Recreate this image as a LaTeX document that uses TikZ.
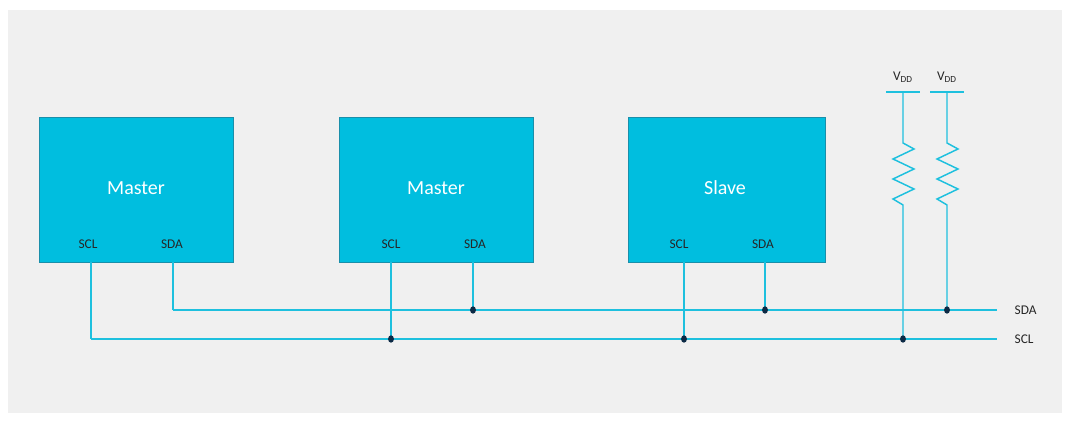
\documentclass[tikz,border=0pt]{standalone}
\usepackage{fontspec}
\setmainfont{Carlito}
\begin{document}
\begin{tikzpicture}[x=0.75pt,y=-0.75pt,
  wire/.style={draw=wirec,line width=1.1pt},
  blk/.style={draw=blkb,fill=blkf,line width=0.8pt,minimum width=194*0.75pt,minimum height=145*0.75pt,anchor=north west,inner sep=0pt},
  pin/.style={font=\fontsize{10}{12}\selectfont,text=black!85},
  jdot/.style={fill=dotc,draw=none,ellipse,minimum width=4pt,minimum height=6pt,inner sep=0pt},
  lbl/.style={font=\fontsize{10}{12}\selectfont,text=black!85}]
\definecolor{wirec}{HTML}{1EC0DE}
\definecolor{blkf}{HTML}{00BEDF}
\definecolor{blkb}{HTML}{1A8FAA}
\definecolor{dotc}{HTML}{0C2A45}
\definecolor{bgc}{HTML}{F0F0F0}
\useasboundingbox (0,0) rectangle (1072,423);
\fill[white] (0,0) rectangle (1072,423);
\fill[bgc] (8,10) rectangle (1062,413);
% blocks
\node[blk] (m1) at (39,117) {};
\node[blk] (m2) at (339,117) {};
\node[blk,minimum width=197*0.75pt] (sl) at (628,117) {};
\node[font=\fontsize{15}{18}\selectfont,text=white] (m1t) at (136,188) {Master};
\node[font=\fontsize{15}{18}\selectfont,text=white] (m2t) at (436,188) {Master};
\node[font=\fontsize{15}{18}\selectfont,text=white] (slt) at (725,188) {Slave};
\node[pin] (m1c) at (88,244) {SCL};
\node[pin] (m1d) at (172,244) {SDA};
\node[pin] (m2c) at (391,244) {SCL};
\node[pin] (m2d) at (475,244) {SDA};
\node[pin] (slc) at (679,244) {SCL};
\node[pin] (sld) at (763,244) {SDA};
% bus ends
\coordinate (sdaL) at (173,310);
\coordinate (sdaR) at (997,310);
\coordinate (sclL) at (91,339);
\coordinate (sclR) at (997,339);
\node[lbl,anchor=west] (sdal) at (1010,310) {SDA};
\node[lbl,anchor=west] (scll) at (1010,339) {SCL};
\draw[wire] (sdaL) -- (sdaR);
\draw[wire] (sclL) -- (sclR);
% vertical taps
\coordinate (a1) at (91,262); \draw[wire] (a1) -- (sclL);
\coordinate (a2) at (173,262); \draw[wire] (a2) -- (sdaL);
\coordinate (b1) at (391,262); \coordinate (b1e) at (391,339); \draw[wire] (b1) -- (b1e);
\coordinate (b2) at (473,262); \coordinate (b2e) at (473,310); \draw[wire] (b2) -- (b2e);
\coordinate (c1) at (684,262); \coordinate (c1e) at (684,339); \draw[wire] (c1) -- (c1e);
\coordinate (c2) at (765,262); \coordinate (c2e) at (765,310); \draw[wire] (c2) -- (c2e);
% resistors
\coordinate (r1t) at (903,92); \coordinate (r1e) at (903,339);
\coordinate (r2t) at (947,92); \coordinate (r2e) at (947,310);
\draw[wire] (886,92) -- (920,92);
\draw[wire] (930,92) -- (964,92);
\node[lbl] (v1) at (903,77) {V\textsubscript{DD}};
\node[lbl] (v2) at (947,77) {V\textsubscript{DD}};
\draw[wire,line join=miter] (r1t) -- (903,143) -- (914,149) -- (893,159) -- (914,169) -- (893,179) -- (914,189) -- (893,199) -- (903,205) -- (r1e);
\draw[wire,line join=miter] (r2t) -- (947,143) -- (958,149) -- (937,159) -- (958,169) -- (937,179) -- (958,189) -- (937,199) -- (947,205) -- (r2e);
% junction dots
\fill[dotc] (b1e) ellipse (2.2pt and 2.8pt);
\fill[dotc] (b2e) ellipse (2.2pt and 2.8pt);
\fill[dotc] (c1e) ellipse (2.2pt and 2.8pt);
\fill[dotc] (c2e) ellipse (2.2pt and 2.8pt);
\fill[dotc] (r1e) ellipse (2.2pt and 2.8pt);
\fill[dotc] (r2e) ellipse (2.2pt and 2.8pt);
\end{tikzpicture}
\end{document}
